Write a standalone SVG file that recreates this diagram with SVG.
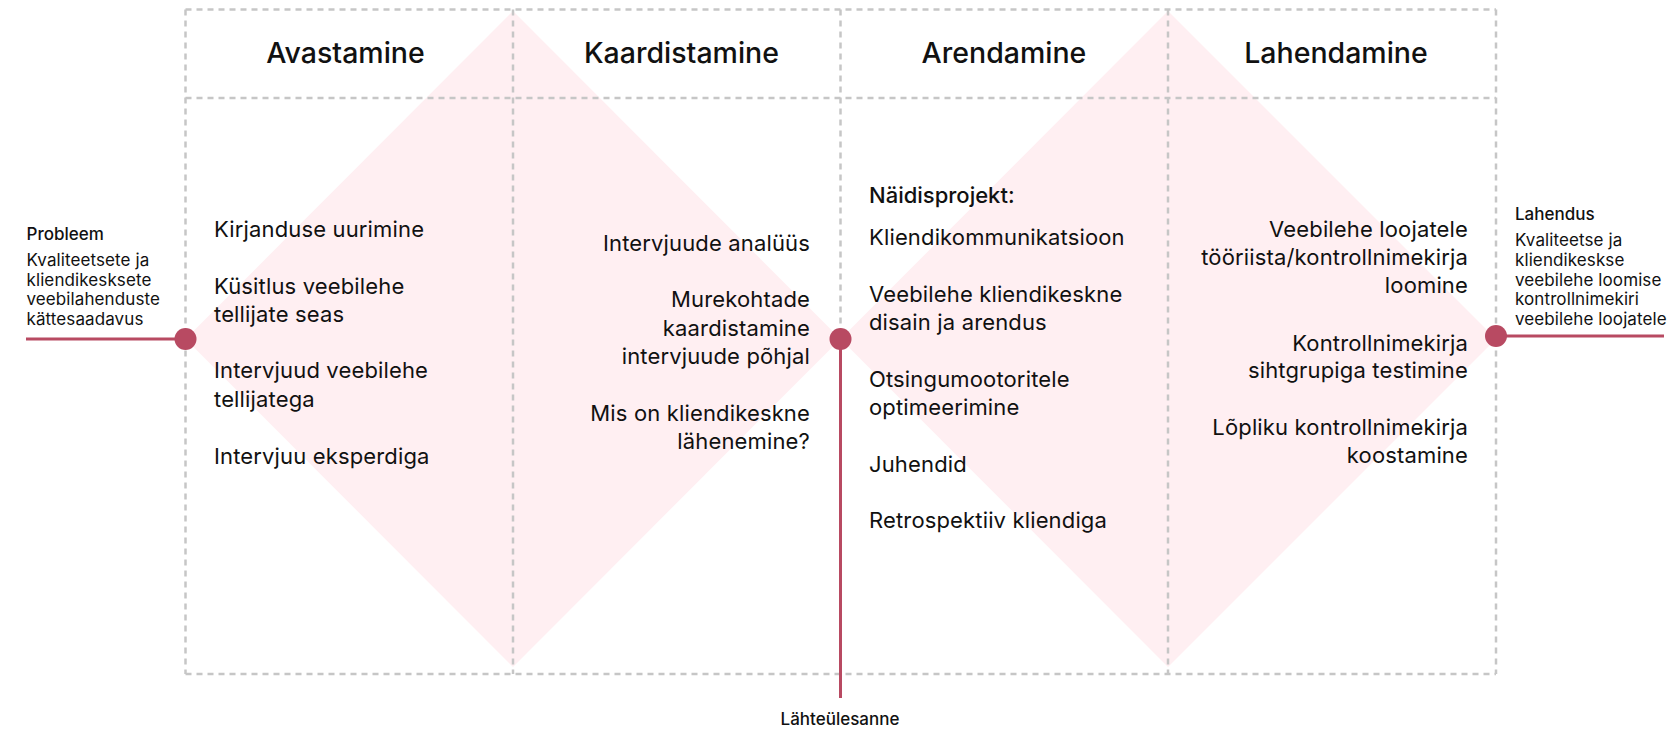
<svg xmlns="http://www.w3.org/2000/svg" width="1672" height="729" viewBox="0 0 1672 729">
<style>
.grid{stroke:#C6C6C6;stroke-width:2.5;stroke-dasharray:6 5;fill:none}
.dia{fill:#FFEFF2}
.rl{stroke:#B84A62;stroke-width:3;fill:none}
.dot{fill:#B84A62}
text{font-family:Inter,"Noto Sans","Liberation Sans",sans-serif;fill:#111111}
.hd{font-size:28.5px;font-weight:500;text-anchor:middle}
.bd{font-size:22px;letter-spacing:0.15px}
.r{text-anchor:end}
.sm{font-size:17px;letter-spacing:0.1px}
.smb{font-size:17px;font-weight:500}
.nb{font-size:22px;font-weight:500}
</style>
<rect width="1672" height="729" fill="#FFFFFF"/>
<g id="diamonds">
<polygon class="dia" points="185.5,339 513,11 840.5,339 513,667"/>
<polygon class="dia" points="840.5,339 1168,11 1496,339 1168,667"/>
</g>
<g id="grid">
<line class="grid" x1="185.5" y1="9.6" x2="1496" y2="9.6"/>
<line class="grid" x1="185.5" y1="98" x2="1496" y2="98"/>
<line class="grid" x1="185.5" y1="674" x2="1496" y2="674"/>
<line class="grid" x1="185.5" y1="9.6" x2="185.5" y2="674"/>
<line class="grid" x1="513" y1="9.6" x2="513" y2="674"/>
<line class="grid" x1="840.5" y1="9.6" x2="840.5" y2="674"/>
<line class="grid" x1="1168" y1="9.6" x2="1168" y2="674"/>
<line class="grid" x1="1496" y1="9.6" x2="1496" y2="674"/>
</g>
<g id="connectors">
<line class="rl" x1="26" y1="339" x2="185.5" y2="339"/>
<line class="rl" x1="840.5" y1="339" x2="840.5" y2="698"/>
<line class="rl" x1="1496" y1="336" x2="1664" y2="336"/>
</g>
<g id="node-avastamine">
<text class="hd" x="345.5" y="63">Avastamine</text>
<text class="bd" x="214" y="237">Kirjanduse uurimine</text>
<text class="bd" x="214" y="294">Küsitlus veebilehe</text>
<text class="bd" x="214" y="322">tellijate seas</text>
<text class="bd" x="214" y="378">Intervjuud veebilehe</text>
<text class="bd" x="214" y="407">tellijatega</text>
<text class="bd" x="214" y="464">Intervjuu eksperdiga</text>
</g>
<g id="node-kaardistamine">
<text class="hd" x="681.5" y="63">Kaardistamine</text>
<text class="bd r" x="810" y="251">Intervjuude analüüs</text>
<text class="bd r" x="810" y="307">Murekohtade</text>
<text class="bd r" x="810" y="336">kaardistamine</text>
<text class="bd r" x="810" y="364">intervjuude põhjal</text>
<text class="bd r" x="810" y="421">Mis on kliendikeskne</text>
<text class="bd r" x="810" y="449">lähenemine?</text>
</g>
<g id="node-arendamine">
<text class="hd" x="1004" y="63">Arendamine</text>
<text class="nb" x="869" y="203">Näidisprojekt:</text>
<text class="bd" x="869" y="245">Kliendikommunikatsioon</text>
<text class="bd" x="869" y="302">Veebilehe kliendikeskne</text>
<text class="bd" x="869" y="330">disain ja arendus</text>
<text class="bd" x="869" y="387">Otsingumootoritele</text>
<text class="bd" x="869" y="415">optimeerimine</text>
<text class="bd" x="869" y="472">Juhendid</text>
<text class="bd" x="869" y="528">Retrospektiiv kliendiga</text>
</g>
<g id="node-lahendamine">
<text class="hd" x="1336" y="63">Lahendamine</text>
<text class="bd r" x="1468" y="237">Veebilehe loojatele</text>
<text class="bd r" x="1468" y="265">tööriista/kontrollnimekirja</text>
<text class="bd r" x="1468" y="293">loomine</text>
<text class="bd r" x="1468" y="351">Kontrollnimekirja</text>
<text class="bd r" x="1468" y="378">sihtgrupiga testimine</text>
<text class="bd r" x="1468" y="435">Lõpliku kontrollnimekirja</text>
<text class="bd r" x="1468" y="463">koostamine</text>
</g>
<g id="node-probleem">
<circle class="dot" cx="185.5" cy="339" r="11"/>
<text class="smb" x="26.5" y="240">Probleem</text>
<text class="sm" x="26.5" y="266">Kvaliteetsete ja</text>
<text class="sm" x="26.5" y="285.5">kliendikesksete</text>
<text class="sm" x="26.5" y="305">veebilahenduste</text>
<text class="sm" x="26.5" y="325">kättesaadavus</text>
</g>
<g id="node-lahteulesanne">
<circle class="dot" cx="840.5" cy="339" r="11"/>
<text class="smb" x="840" y="725" text-anchor="middle">Lähteülesanne</text>
</g>
<g id="node-lahendus">
<circle class="dot" cx="1496" cy="336" r="11"/>
<text class="smb" x="1515" y="220">Lahendus</text>
<text class="sm" x="1515" y="246">Kvaliteetse ja</text>
<text class="sm" x="1515" y="266">kliendikeskse</text>
<text class="sm" x="1515" y="286">veebilehe loomise</text>
<text class="sm" x="1515" y="305">kontrollnimekiri</text>
<text class="sm" x="1515" y="325">veebilehe loojatele</text>
</g>
</svg>
